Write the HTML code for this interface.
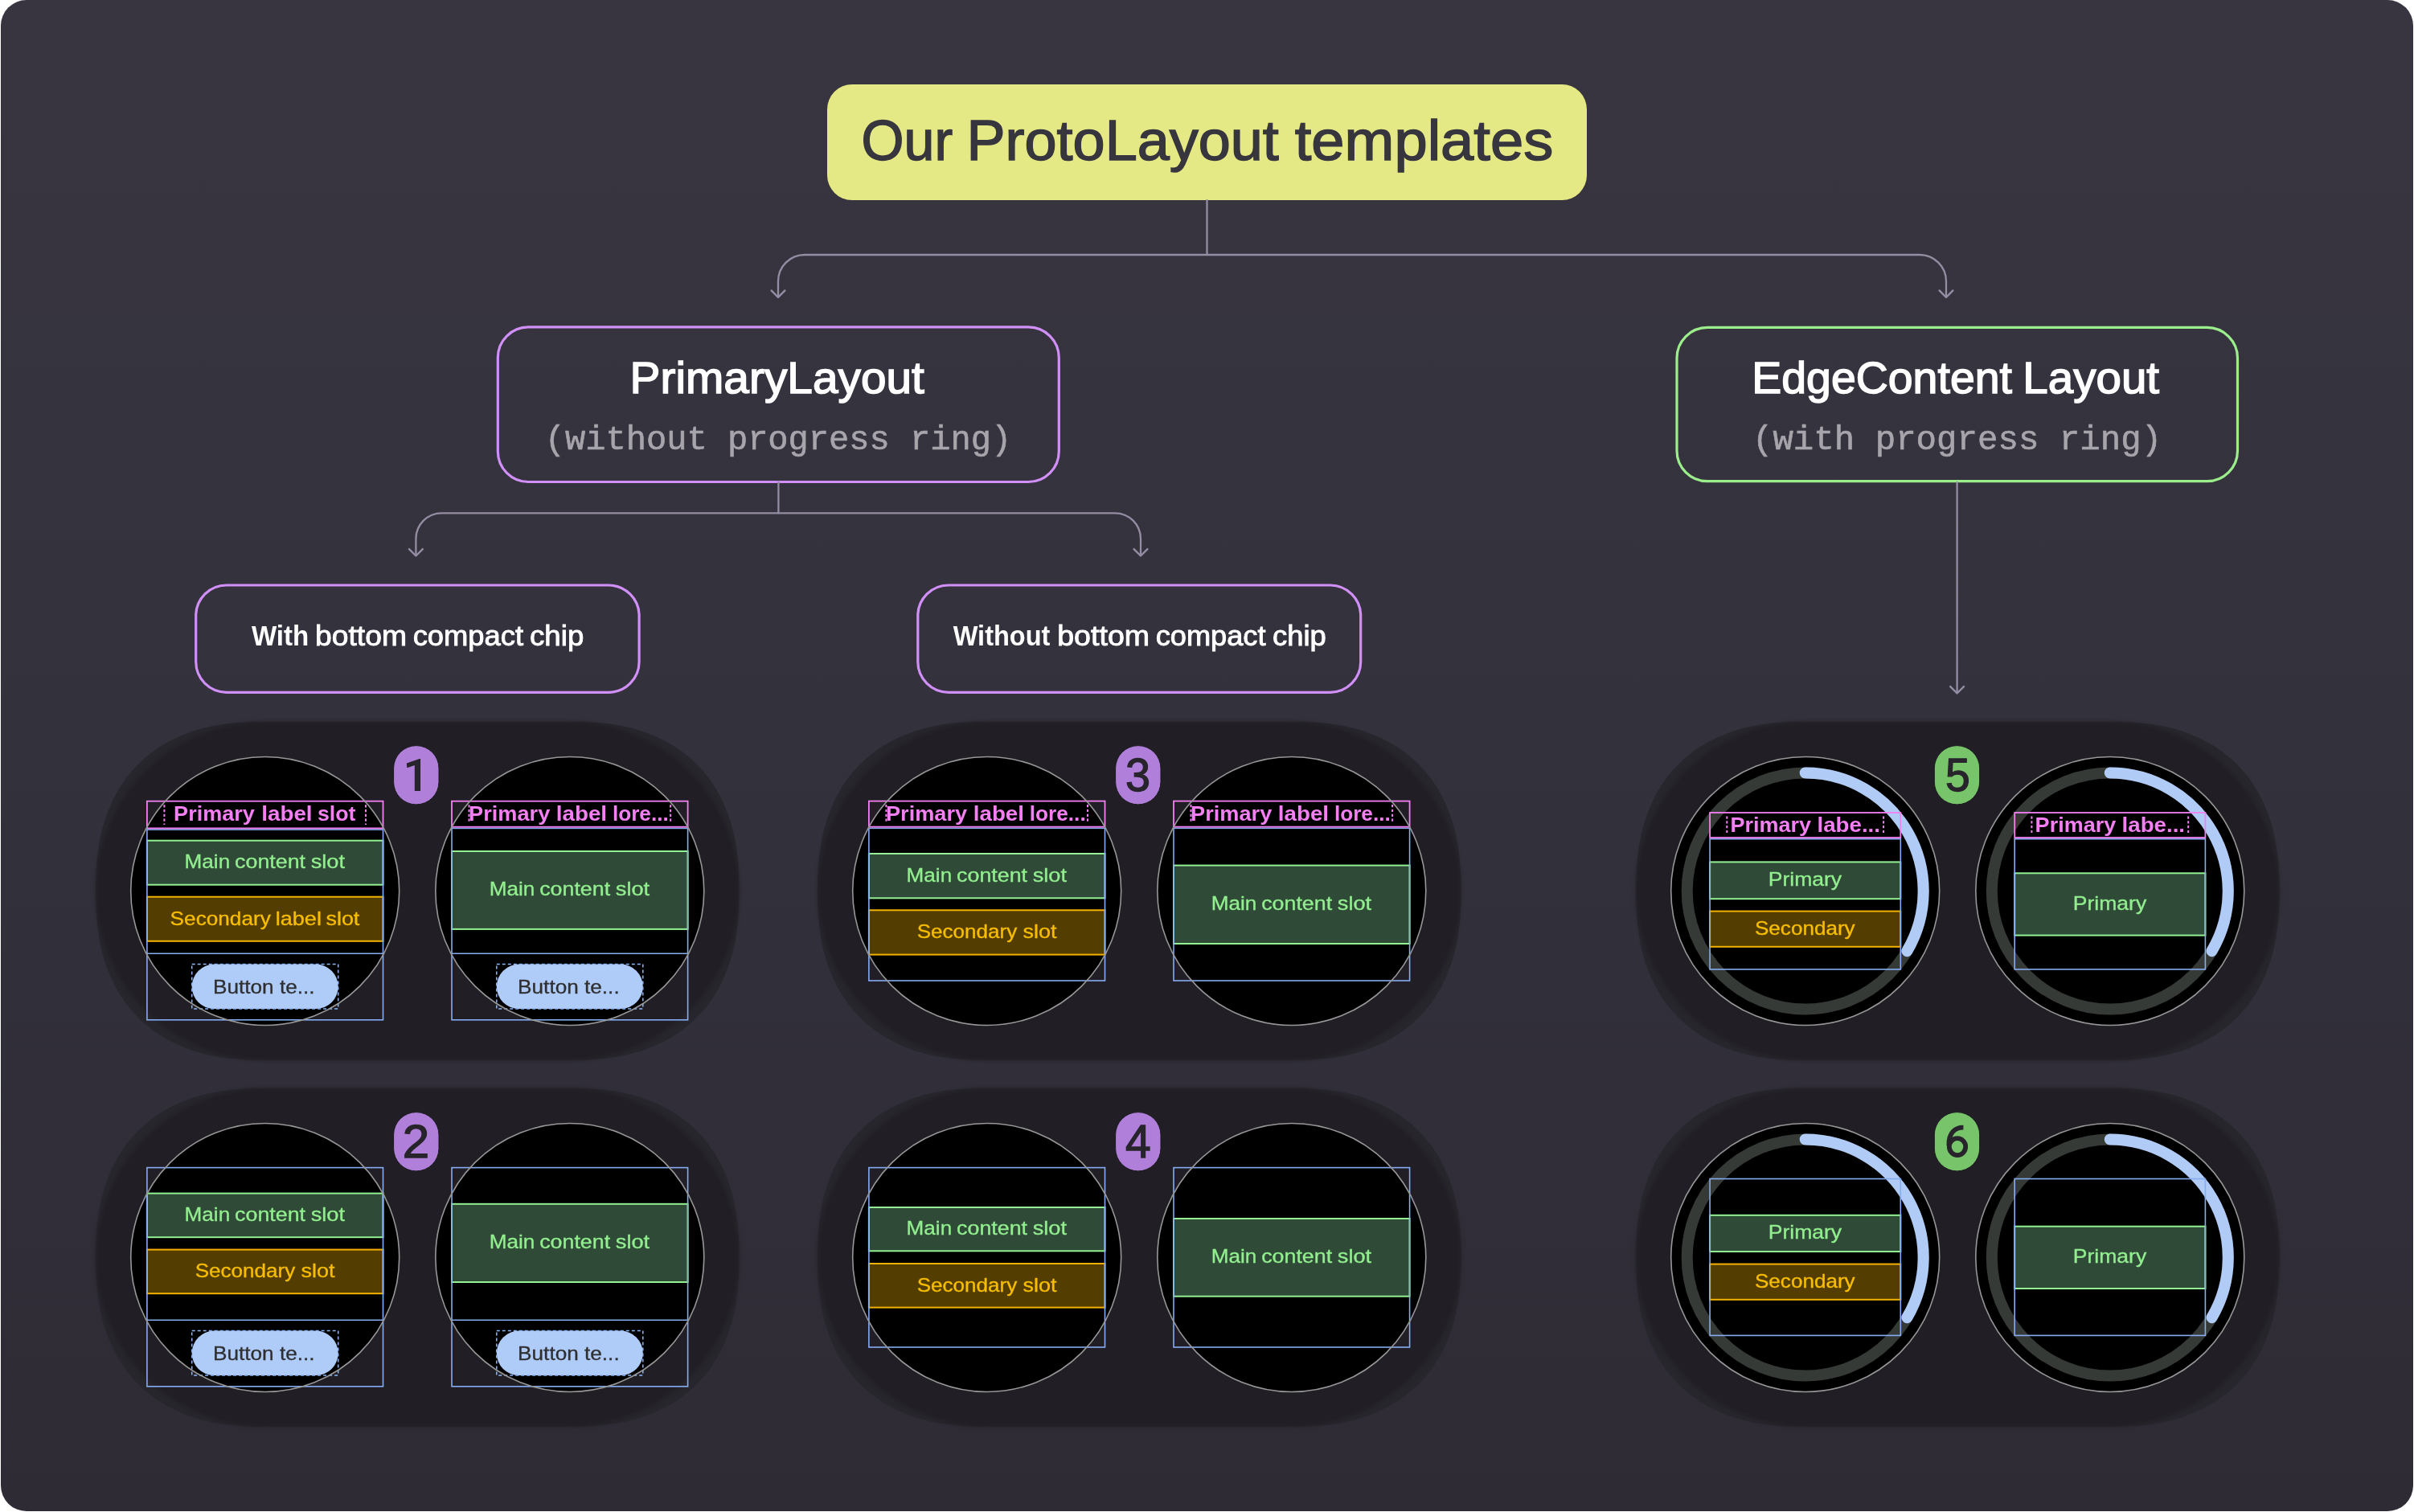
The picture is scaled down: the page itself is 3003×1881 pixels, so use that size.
<!DOCTYPE html>
<html><head><meta charset="utf-8"><style>
html,body{margin:0;padding:0;background:#fff;}
body{width:3003px;height:1881px;overflow:hidden;}
svg{display:block;will-change:transform;}
text{white-space:pre;}
</style></head><body>
<svg width="3003" height="1881" viewBox="0 0 3003 1881">
<defs>
<linearGradient id="bgg" x1="0" y1="0" x2="0" y2="1"><stop offset="0" stop-color="#383540"/><stop offset="0.4" stop-color="#34323d"/><stop offset="1" stop-color="#2e2b35"/></linearGradient>
<filter id="soft" x="-10%" y="-10%" width="120%" height="120%" color-interpolation-filters="sRGB"><feGaussianBlur stdDeviation="2.5"/></filter>
</defs>
<rect x="1" y="0" width="3001" height="1880" rx="32" fill="url(#bgg)"/>
<rect x="1029" y="105" width="945" height="144" rx="31" fill="#e5e985"/>
<path d="M1501.5 249 L1501.5 317" fill="none" stroke="#948da3" stroke-width="2.3" stroke-linecap="round" stroke-linejoin="round"/>
<path d="M968 369.5 L968 350 A33 33 0 0 1 1001 317 L2388 317 A33 33 0 0 1 2421 350 L2421 369.5" fill="none" stroke="#948da3" stroke-width="2.3" stroke-linecap="round" stroke-linejoin="round"/>
<path d="M959.6 361.4 L968.0 369.8 L976.4 361.4" fill="none" stroke="#948da3" stroke-width="2.4" stroke-linecap="round" stroke-linejoin="round"/>
<path d="M2412.6 361.4 L2421.0 369.8 L2429.4 361.4" fill="none" stroke="#948da3" stroke-width="2.4" stroke-linecap="round" stroke-linejoin="round"/>
<rect x="619.3" y="406.9" width="698" height="192.6" rx="38" fill="none" stroke="#d18ff8" stroke-width="3.2"/>
<rect x="2086" y="407.4" width="697.5" height="191.3" rx="38" fill="none" stroke="#9cee8c" stroke-width="3.2"/>
<path d="M968.4 600 L968.4 638.3" fill="none" stroke="#948da3" stroke-width="2.3" stroke-linecap="round" stroke-linejoin="round"/>
<path d="M517.4 691 L517.4 670.3 A32 32 0 0 1 549.4 638.3 L1387 638.3 A32 32 0 0 1 1419 670.3 L1419 691" fill="none" stroke="#948da3" stroke-width="2.3" stroke-linecap="round" stroke-linejoin="round"/>
<path d="M509.0 683.1 L517.4 691.5 L525.8 683.1" fill="none" stroke="#948da3" stroke-width="2.4" stroke-linecap="round" stroke-linejoin="round"/>
<path d="M1410.6 683.1 L1419.0 691.5 L1427.4 683.1" fill="none" stroke="#948da3" stroke-width="2.4" stroke-linecap="round" stroke-linejoin="round"/>
<path d="M2434.6 600 L2434.6 862" fill="none" stroke="#948da3" stroke-width="2.3" stroke-linecap="round" stroke-linejoin="round"/>
<path d="M2426.2 854.1 L2434.6 862.5 L2443.0 854.1" fill="none" stroke="#948da3" stroke-width="2.4" stroke-linecap="round" stroke-linejoin="round"/>
<rect x="243.7" y="728.0" width="551.4" height="133.3" rx="38" fill="none" stroke="#d18ff8" stroke-width="3.2"/>
<rect x="1141.8" y="728.0" width="550.9" height="133.3" rx="38" fill="none" stroke="#d18ff8" stroke-width="3.2"/>
<path d="M709.0 897.9 L720.0 898.0 L731.0 898.3 L742.1 898.9 L753.2 900.0 L764.4 901.5 L775.5 903.5 L786.6 906.1 L797.6 909.3 L808.4 913.2 L819.0 917.7 L829.4 922.9 L839.4 928.8 L849.0 935.4 L858.1 942.7 L866.6 950.7 L874.6 959.2 L881.9 968.3 L888.5 977.9 L894.4 987.9 L899.6 998.3 L904.1 1008.9 L908.0 1019.7 L911.2 1030.7 L913.8 1041.8 L915.8 1052.9 L917.3 1064.1 L918.4 1075.2 L919.0 1086.3 L919.3 1097.3 L919.4 1108.3 L919.3 1119.4 L919.0 1130.4 L918.4 1141.5 L917.3 1152.6 L915.8 1163.8 L913.8 1174.9 L911.2 1186.0 L908.0 1197.0 L904.1 1207.8 L899.6 1218.4 L894.4 1228.8 L888.5 1238.8 L881.9 1248.4 L874.6 1257.5 L866.6 1266.0 L858.1 1274.0 L849.0 1281.3 L839.4 1287.9 L829.4 1293.8 L819.0 1299.0 L808.4 1303.5 L797.6 1307.4 L786.6 1310.6 L775.5 1313.2 L764.4 1315.2 L753.2 1316.7 L742.1 1317.8 L731.0 1318.4 L720.0 1318.7 L709.0 1318.8 L329.6 1318.8 L318.6 1318.7 L307.6 1318.4 L296.5 1317.8 L285.4 1316.7 L274.2 1315.2 L263.1 1313.2 L252.0 1310.6 L241.0 1307.4 L230.2 1303.5 L219.6 1299.0 L209.2 1293.8 L199.2 1287.9 L189.6 1281.3 L180.5 1274.0 L172.0 1266.0 L164.0 1257.5 L156.7 1248.4 L150.1 1238.8 L144.2 1228.8 L139.0 1218.4 L134.5 1207.8 L130.6 1197.0 L127.4 1186.0 L124.8 1174.9 L122.8 1163.8 L121.3 1152.6 L120.2 1141.5 L119.6 1130.4 L119.3 1119.4 L119.2 1108.3 L119.3 1097.3 L119.6 1086.3 L120.2 1075.2 L121.3 1064.1 L122.8 1052.9 L124.8 1041.8 L127.4 1030.7 L130.6 1019.7 L134.5 1008.9 L139.0 998.3 L144.2 987.9 L150.1 977.9 L156.7 968.3 L164.0 959.2 L172.0 950.7 L180.5 942.7 L189.6 935.4 L199.2 928.8 L209.2 922.9 L219.6 917.7 L230.2 913.2 L241.0 909.3 L252.0 906.1 L263.1 903.5 L274.2 901.5 L285.4 900.0 L296.5 898.9 L307.6 898.3 L318.6 898.0 L329.6 897.9 Z" fill="#28262d"/>
<rect x="119.20" y="897.90" width="800.20" height="420.90" rx="210.45" fill="#211f25" filter="url(#soft)"/>
<path d="M709.0 1353.9 L720.0 1354.0 L731.0 1354.3 L742.1 1354.9 L753.2 1356.0 L764.4 1357.5 L775.5 1359.5 L786.6 1362.1 L797.6 1365.3 L808.4 1369.2 L819.0 1373.7 L829.4 1378.9 L839.4 1384.8 L849.0 1391.4 L858.1 1398.7 L866.6 1406.7 L874.6 1415.2 L881.9 1424.3 L888.5 1433.9 L894.4 1443.9 L899.6 1454.3 L904.1 1464.9 L908.0 1475.7 L911.2 1486.7 L913.8 1497.8 L915.8 1508.9 L917.3 1520.1 L918.4 1531.2 L919.0 1542.3 L919.3 1553.3 L919.4 1564.3 L919.3 1575.4 L919.0 1586.4 L918.4 1597.5 L917.3 1608.6 L915.8 1619.8 L913.8 1630.9 L911.2 1642.0 L908.0 1653.0 L904.1 1663.8 L899.6 1674.4 L894.4 1684.8 L888.5 1694.8 L881.9 1704.4 L874.6 1713.5 L866.6 1722.0 L858.1 1730.0 L849.0 1737.3 L839.4 1743.9 L829.4 1749.8 L819.0 1755.0 L808.4 1759.5 L797.6 1763.4 L786.6 1766.6 L775.5 1769.2 L764.4 1771.2 L753.2 1772.7 L742.1 1773.8 L731.0 1774.4 L720.0 1774.7 L709.0 1774.8 L329.6 1774.8 L318.6 1774.7 L307.6 1774.4 L296.5 1773.8 L285.4 1772.7 L274.2 1771.2 L263.1 1769.2 L252.0 1766.6 L241.0 1763.4 L230.2 1759.5 L219.6 1755.0 L209.2 1749.8 L199.2 1743.9 L189.6 1737.3 L180.5 1730.0 L172.0 1722.0 L164.0 1713.5 L156.7 1704.4 L150.1 1694.8 L144.2 1684.8 L139.0 1674.4 L134.5 1663.8 L130.6 1653.0 L127.4 1642.0 L124.8 1630.9 L122.8 1619.8 L121.3 1608.6 L120.2 1597.5 L119.6 1586.4 L119.3 1575.4 L119.2 1564.3 L119.3 1553.3 L119.6 1542.3 L120.2 1531.2 L121.3 1520.1 L122.8 1508.9 L124.8 1497.8 L127.4 1486.7 L130.6 1475.7 L134.5 1464.9 L139.0 1454.3 L144.2 1443.9 L150.1 1433.9 L156.7 1424.3 L164.0 1415.2 L172.0 1406.7 L180.5 1398.7 L189.6 1391.4 L199.2 1384.8 L209.2 1378.9 L219.6 1373.7 L230.2 1369.2 L241.0 1365.3 L252.0 1362.1 L263.1 1359.5 L274.2 1357.5 L285.4 1356.0 L296.5 1354.9 L307.6 1354.3 L318.6 1354.0 L329.6 1353.9 Z" fill="#28262d"/>
<rect x="119.20" y="1353.90" width="800.20" height="420.90" rx="210.45" fill="#211f25" filter="url(#soft)"/>
<path d="M1607.0 897.9 L1618.0 898.0 L1629.0 898.3 L1640.1 898.9 L1651.2 900.0 L1662.4 901.5 L1673.5 903.5 L1684.6 906.1 L1695.6 909.3 L1706.4 913.2 L1717.0 917.7 L1727.4 922.9 L1737.4 928.8 L1747.0 935.4 L1756.1 942.7 L1764.6 950.7 L1772.6 959.2 L1779.9 968.3 L1786.5 977.9 L1792.4 987.9 L1797.6 998.3 L1802.1 1008.9 L1806.0 1019.7 L1809.2 1030.7 L1811.8 1041.8 L1813.8 1052.9 L1815.3 1064.1 L1816.4 1075.2 L1817.0 1086.3 L1817.3 1097.3 L1817.4 1108.3 L1817.3 1119.4 L1817.0 1130.4 L1816.4 1141.5 L1815.3 1152.6 L1813.8 1163.8 L1811.8 1174.9 L1809.2 1186.0 L1806.0 1197.0 L1802.1 1207.8 L1797.6 1218.4 L1792.4 1228.8 L1786.5 1238.8 L1779.9 1248.4 L1772.6 1257.5 L1764.6 1266.0 L1756.1 1274.0 L1747.0 1281.3 L1737.4 1287.9 L1727.4 1293.8 L1717.0 1299.0 L1706.4 1303.5 L1695.6 1307.4 L1684.6 1310.6 L1673.5 1313.2 L1662.4 1315.2 L1651.2 1316.7 L1640.1 1317.8 L1629.0 1318.4 L1618.0 1318.7 L1607.0 1318.8 L1227.7 1318.8 L1216.6 1318.7 L1205.6 1318.4 L1194.5 1317.8 L1183.4 1316.7 L1172.2 1315.2 L1161.1 1313.2 L1150.0 1310.6 L1139.0 1307.4 L1128.2 1303.5 L1117.6 1299.0 L1107.2 1293.8 L1097.2 1287.9 L1087.6 1281.3 L1078.5 1274.0 L1070.0 1266.0 L1062.0 1257.5 L1054.7 1248.4 L1048.1 1238.8 L1042.2 1228.8 L1037.0 1218.4 L1032.5 1207.8 L1028.6 1197.0 L1025.4 1186.0 L1022.8 1174.9 L1020.8 1163.8 L1019.3 1152.6 L1018.2 1141.5 L1017.6 1130.4 L1017.3 1119.4 L1017.2 1108.3 L1017.3 1097.3 L1017.6 1086.3 L1018.2 1075.2 L1019.3 1064.1 L1020.8 1052.9 L1022.8 1041.8 L1025.4 1030.7 L1028.6 1019.7 L1032.5 1008.9 L1037.0 998.3 L1042.2 987.9 L1048.1 977.9 L1054.7 968.3 L1062.0 959.2 L1070.0 950.7 L1078.5 942.7 L1087.6 935.4 L1097.2 928.8 L1107.2 922.9 L1117.6 917.7 L1128.2 913.2 L1139.0 909.3 L1150.0 906.1 L1161.1 903.5 L1172.2 901.5 L1183.4 900.0 L1194.5 898.9 L1205.6 898.3 L1216.6 898.0 L1227.7 897.9 Z" fill="#28262d"/>
<rect x="1017.20" y="897.90" width="800.20" height="420.90" rx="210.45" fill="#211f25" filter="url(#soft)"/>
<path d="M1607.0 1353.9 L1618.0 1354.0 L1629.0 1354.3 L1640.1 1354.9 L1651.2 1356.0 L1662.4 1357.5 L1673.5 1359.5 L1684.6 1362.1 L1695.6 1365.3 L1706.4 1369.2 L1717.0 1373.7 L1727.4 1378.9 L1737.4 1384.8 L1747.0 1391.4 L1756.1 1398.7 L1764.6 1406.7 L1772.6 1415.2 L1779.9 1424.3 L1786.5 1433.9 L1792.4 1443.9 L1797.6 1454.3 L1802.1 1464.9 L1806.0 1475.7 L1809.2 1486.7 L1811.8 1497.8 L1813.8 1508.9 L1815.3 1520.1 L1816.4 1531.2 L1817.0 1542.3 L1817.3 1553.3 L1817.4 1564.3 L1817.3 1575.4 L1817.0 1586.4 L1816.4 1597.5 L1815.3 1608.6 L1813.8 1619.8 L1811.8 1630.9 L1809.2 1642.0 L1806.0 1653.0 L1802.1 1663.8 L1797.6 1674.4 L1792.4 1684.8 L1786.5 1694.8 L1779.9 1704.4 L1772.6 1713.5 L1764.6 1722.0 L1756.1 1730.0 L1747.0 1737.3 L1737.4 1743.9 L1727.4 1749.8 L1717.0 1755.0 L1706.4 1759.5 L1695.6 1763.4 L1684.6 1766.6 L1673.5 1769.2 L1662.4 1771.2 L1651.2 1772.7 L1640.1 1773.8 L1629.0 1774.4 L1618.0 1774.7 L1607.0 1774.8 L1227.7 1774.8 L1216.6 1774.7 L1205.6 1774.4 L1194.5 1773.8 L1183.4 1772.7 L1172.2 1771.2 L1161.1 1769.2 L1150.0 1766.6 L1139.0 1763.4 L1128.2 1759.5 L1117.6 1755.0 L1107.2 1749.8 L1097.2 1743.9 L1087.6 1737.3 L1078.5 1730.0 L1070.0 1722.0 L1062.0 1713.5 L1054.7 1704.4 L1048.1 1694.8 L1042.2 1684.8 L1037.0 1674.4 L1032.5 1663.8 L1028.6 1653.0 L1025.4 1642.0 L1022.8 1630.9 L1020.8 1619.8 L1019.3 1608.6 L1018.2 1597.5 L1017.6 1586.4 L1017.3 1575.4 L1017.2 1564.3 L1017.3 1553.3 L1017.6 1542.3 L1018.2 1531.2 L1019.3 1520.1 L1020.8 1508.9 L1022.8 1497.8 L1025.4 1486.7 L1028.6 1475.7 L1032.5 1464.9 L1037.0 1454.3 L1042.2 1443.9 L1048.1 1433.9 L1054.7 1424.3 L1062.0 1415.2 L1070.0 1406.7 L1078.5 1398.7 L1087.6 1391.4 L1097.2 1384.8 L1107.2 1378.9 L1117.6 1373.7 L1128.2 1369.2 L1139.0 1365.3 L1150.0 1362.1 L1161.1 1359.5 L1172.2 1357.5 L1183.4 1356.0 L1194.5 1354.9 L1205.6 1354.3 L1216.6 1354.0 L1227.7 1353.9 Z" fill="#28262d"/>
<rect x="1017.20" y="1353.90" width="800.20" height="420.90" rx="210.45" fill="#211f25" filter="url(#soft)"/>
<path d="M2625.0 897.9 L2636.0 898.0 L2647.0 898.3 L2658.1 898.9 L2669.2 900.0 L2680.4 901.5 L2691.5 903.5 L2702.6 906.1 L2713.6 909.3 L2724.4 913.2 L2735.0 917.7 L2745.4 922.9 L2755.4 928.8 L2765.0 935.4 L2774.1 942.7 L2782.6 950.7 L2790.6 959.2 L2797.9 968.3 L2804.5 977.9 L2810.4 987.9 L2815.6 998.3 L2820.1 1008.9 L2824.0 1019.7 L2827.2 1030.7 L2829.8 1041.8 L2831.8 1052.9 L2833.3 1064.1 L2834.4 1075.2 L2835.0 1086.3 L2835.3 1097.3 L2835.4 1108.3 L2835.3 1119.4 L2835.0 1130.4 L2834.4 1141.5 L2833.3 1152.6 L2831.8 1163.8 L2829.8 1174.9 L2827.2 1186.0 L2824.0 1197.0 L2820.1 1207.8 L2815.6 1218.4 L2810.4 1228.8 L2804.5 1238.8 L2797.9 1248.4 L2790.6 1257.5 L2782.6 1266.0 L2774.1 1274.0 L2765.0 1281.3 L2755.4 1287.9 L2745.4 1293.8 L2735.0 1299.0 L2724.4 1303.5 L2713.6 1307.4 L2702.6 1310.6 L2691.5 1313.2 L2680.4 1315.2 L2669.2 1316.7 L2658.1 1317.8 L2647.0 1318.4 L2636.0 1318.7 L2625.0 1318.8 L2245.7 1318.8 L2234.6 1318.7 L2223.6 1318.4 L2212.5 1317.8 L2201.4 1316.7 L2190.2 1315.2 L2179.1 1313.2 L2168.0 1310.6 L2157.0 1307.4 L2146.2 1303.5 L2135.6 1299.0 L2125.2 1293.8 L2115.2 1287.9 L2105.6 1281.3 L2096.5 1274.0 L2088.0 1266.0 L2080.0 1257.5 L2072.7 1248.4 L2066.1 1238.8 L2060.2 1228.8 L2055.0 1218.4 L2050.5 1207.8 L2046.6 1197.0 L2043.4 1186.0 L2040.8 1174.9 L2038.8 1163.8 L2037.3 1152.6 L2036.2 1141.5 L2035.6 1130.4 L2035.3 1119.4 L2035.2 1108.3 L2035.3 1097.3 L2035.6 1086.3 L2036.2 1075.2 L2037.3 1064.1 L2038.8 1052.9 L2040.8 1041.8 L2043.4 1030.7 L2046.6 1019.7 L2050.5 1008.9 L2055.0 998.3 L2060.2 987.9 L2066.1 977.9 L2072.7 968.3 L2080.0 959.2 L2088.0 950.7 L2096.5 942.7 L2105.6 935.4 L2115.2 928.8 L2125.2 922.9 L2135.6 917.7 L2146.2 913.2 L2157.0 909.3 L2168.0 906.1 L2179.1 903.5 L2190.2 901.5 L2201.4 900.0 L2212.5 898.9 L2223.6 898.3 L2234.6 898.0 L2245.7 897.9 Z" fill="#28262d"/>
<rect x="2035.20" y="897.90" width="800.20" height="420.90" rx="210.45" fill="#211f25" filter="url(#soft)"/>
<path d="M2625.0 1353.9 L2636.0 1354.0 L2647.0 1354.3 L2658.1 1354.9 L2669.2 1356.0 L2680.4 1357.5 L2691.5 1359.5 L2702.6 1362.1 L2713.6 1365.3 L2724.4 1369.2 L2735.0 1373.7 L2745.4 1378.9 L2755.4 1384.8 L2765.0 1391.4 L2774.1 1398.7 L2782.6 1406.7 L2790.6 1415.2 L2797.9 1424.3 L2804.5 1433.9 L2810.4 1443.9 L2815.6 1454.3 L2820.1 1464.9 L2824.0 1475.7 L2827.2 1486.7 L2829.8 1497.8 L2831.8 1508.9 L2833.3 1520.1 L2834.4 1531.2 L2835.0 1542.3 L2835.3 1553.3 L2835.4 1564.3 L2835.3 1575.4 L2835.0 1586.4 L2834.4 1597.5 L2833.3 1608.6 L2831.8 1619.8 L2829.8 1630.9 L2827.2 1642.0 L2824.0 1653.0 L2820.1 1663.8 L2815.6 1674.4 L2810.4 1684.8 L2804.5 1694.8 L2797.9 1704.4 L2790.6 1713.5 L2782.6 1722.0 L2774.1 1730.0 L2765.0 1737.3 L2755.4 1743.9 L2745.4 1749.8 L2735.0 1755.0 L2724.4 1759.5 L2713.6 1763.4 L2702.6 1766.6 L2691.5 1769.2 L2680.4 1771.2 L2669.2 1772.7 L2658.1 1773.8 L2647.0 1774.4 L2636.0 1774.7 L2625.0 1774.8 L2245.7 1774.8 L2234.6 1774.7 L2223.6 1774.4 L2212.5 1773.8 L2201.4 1772.7 L2190.2 1771.2 L2179.1 1769.2 L2168.0 1766.6 L2157.0 1763.4 L2146.2 1759.5 L2135.6 1755.0 L2125.2 1749.8 L2115.2 1743.9 L2105.6 1737.3 L2096.5 1730.0 L2088.0 1722.0 L2080.0 1713.5 L2072.7 1704.4 L2066.1 1694.8 L2060.2 1684.8 L2055.0 1674.4 L2050.5 1663.8 L2046.6 1653.0 L2043.4 1642.0 L2040.8 1630.9 L2038.8 1619.8 L2037.3 1608.6 L2036.2 1597.5 L2035.6 1586.4 L2035.3 1575.4 L2035.2 1564.3 L2035.3 1553.3 L2035.6 1542.3 L2036.2 1531.2 L2037.3 1520.1 L2038.8 1508.9 L2040.8 1497.8 L2043.4 1486.7 L2046.6 1475.7 L2050.5 1464.9 L2055.0 1454.3 L2060.2 1443.9 L2066.1 1433.9 L2072.7 1424.3 L2080.0 1415.2 L2088.0 1406.7 L2096.5 1398.7 L2105.6 1391.4 L2115.2 1384.8 L2125.2 1378.9 L2135.6 1373.7 L2146.2 1369.2 L2157.0 1365.3 L2168.0 1362.1 L2179.1 1359.5 L2190.2 1357.5 L2201.4 1356.0 L2212.5 1354.9 L2223.6 1354.3 L2234.6 1354.0 L2245.7 1353.9 Z" fill="#28262d"/>
<rect x="2035.20" y="1353.90" width="800.20" height="420.90" rx="210.45" fill="#211f25" filter="url(#soft)"/>
<circle cx="329.70" cy="1108.50" r="167.0" fill="#000"/>
<rect x="182.90" y="1045.70" width="293.60" height="55.00" fill="#2f4b37" stroke="#93f093" stroke-width="2"/>
<rect x="182.90" y="1115.70" width="293.60" height="55.10" fill="#533d00" stroke="#f3b200" stroke-width="2"/>
<rect x="182.90" y="1032.10" width="293.60" height="236.70" fill="none" stroke="#86acf2" stroke-width="1.6"/>
<line x1="182.90" y1="1186.20" x2="476.50" y2="1186.20" stroke="#86acf2" stroke-width="1.5"/>
<rect x="182.90" y="996.70" width="293.60" height="33.70" fill="none" stroke="#f47ff3" stroke-width="1.8"/>
<rect x="238.70" y="1199.60" width="182.00" height="55.40" rx="27.70" fill="#afcbf8"/>
<rect x="238.70" y="1199.60" width="182.00" height="55.40" fill="none" stroke="#8cb6f7" stroke-width="1.5" stroke-dasharray="4 3"/>
<circle cx="329.70" cy="1108.50" r="167.0" fill="none" stroke="#979797" stroke-width="1.6"/>
<circle cx="708.80" cy="1108.50" r="167.0" fill="#000"/>
<rect x="562.00" y="1059.00" width="293.60" height="96.90" fill="#2f4b37" stroke="#93f093" stroke-width="2"/>
<rect x="562.00" y="1030.40" width="293.60" height="238.40" fill="none" stroke="#86acf2" stroke-width="1.6"/>
<line x1="562.00" y1="1186.20" x2="855.60" y2="1186.20" stroke="#86acf2" stroke-width="1.5"/>
<rect x="562.00" y="996.70" width="293.60" height="32.00" fill="none" stroke="#f47ff3" stroke-width="1.8"/>
<rect x="617.80" y="1199.60" width="182.00" height="55.40" rx="27.70" fill="#afcbf8"/>
<rect x="617.80" y="1199.60" width="182.00" height="55.40" fill="none" stroke="#8cb6f7" stroke-width="1.5" stroke-dasharray="4 3"/>
<circle cx="708.80" cy="1108.50" r="167.0" fill="none" stroke="#979797" stroke-width="1.6"/>
<rect x="489.60" y="927.60" width="56.4" height="73.3" rx="28.2" fill="#b07fda" stroke="#1c1a1f" stroke-width="1"/>
<circle cx="329.70" cy="1564.50" r="167.0" fill="#000"/>
<rect x="182.90" y="1484.60" width="293.60" height="54.60" fill="#2f4b37" stroke="#93f093" stroke-width="2"/>
<rect x="182.90" y="1554.60" width="293.60" height="54.60" fill="#533d00" stroke="#f3b200" stroke-width="2"/>
<rect x="182.90" y="1452.60" width="293.60" height="272.20" fill="none" stroke="#86acf2" stroke-width="1.6"/>
<line x1="182.90" y1="1642.20" x2="476.50" y2="1642.20" stroke="#86acf2" stroke-width="1.5"/>
<rect x="238.70" y="1655.60" width="182.00" height="55.40" rx="27.70" fill="#afcbf8"/>
<rect x="238.70" y="1655.60" width="182.00" height="55.40" fill="none" stroke="#8cb6f7" stroke-width="1.5" stroke-dasharray="4 3"/>
<circle cx="329.70" cy="1564.50" r="167.0" fill="none" stroke="#979797" stroke-width="1.6"/>
<circle cx="708.80" cy="1564.50" r="167.0" fill="#000"/>
<rect x="562.00" y="1497.80" width="293.60" height="97.20" fill="#2f4b37" stroke="#93f093" stroke-width="2"/>
<rect x="562.00" y="1452.60" width="293.60" height="272.20" fill="none" stroke="#86acf2" stroke-width="1.6"/>
<line x1="562.00" y1="1642.20" x2="855.60" y2="1642.20" stroke="#86acf2" stroke-width="1.5"/>
<rect x="617.80" y="1655.60" width="182.00" height="55.40" rx="27.70" fill="#afcbf8"/>
<rect x="617.80" y="1655.60" width="182.00" height="55.40" fill="none" stroke="#8cb6f7" stroke-width="1.5" stroke-dasharray="4 3"/>
<circle cx="708.80" cy="1564.50" r="167.0" fill="none" stroke="#979797" stroke-width="1.6"/>
<rect x="489.60" y="1383.60" width="56.4" height="73.3" rx="28.2" fill="#b07fda" stroke="#1c1a1f" stroke-width="1"/>
<circle cx="1227.70" cy="1108.50" r="167.0" fill="#000"/>
<rect x="1080.90" y="1062.00" width="293.60" height="55.30" fill="#2f4b37" stroke="#93f093" stroke-width="2"/>
<rect x="1080.90" y="1132.30" width="293.60" height="55.30" fill="#533d00" stroke="#f3b200" stroke-width="2"/>
<rect x="1080.90" y="1030.30" width="293.60" height="189.70" fill="none" stroke="#86acf2" stroke-width="1.6"/>
<rect x="1080.90" y="996.60" width="293.60" height="32.00" fill="none" stroke="#f47ff3" stroke-width="1.8"/>
<circle cx="1227.70" cy="1108.50" r="167.0" fill="none" stroke="#979797" stroke-width="1.6"/>
<circle cx="1606.80" cy="1108.50" r="167.0" fill="#000"/>
<rect x="1460.00" y="1076.60" width="293.60" height="97.40" fill="#2f4b37" stroke="#93f093" stroke-width="2"/>
<rect x="1460.00" y="1030.30" width="293.60" height="189.70" fill="none" stroke="#86acf2" stroke-width="1.6"/>
<rect x="1460.00" y="996.60" width="293.60" height="32.00" fill="none" stroke="#f47ff3" stroke-width="1.8"/>
<circle cx="1606.80" cy="1108.50" r="167.0" fill="none" stroke="#979797" stroke-width="1.6"/>
<rect x="1387.60" y="927.60" width="56.4" height="73.3" rx="28.2" fill="#b07fda" stroke="#1c1a1f" stroke-width="1"/>
<circle cx="1227.70" cy="1564.50" r="167.0" fill="#000"/>
<rect x="1080.90" y="1502.00" width="293.60" height="54.30" fill="#2f4b37" stroke="#93f093" stroke-width="2"/>
<rect x="1080.90" y="1572.00" width="293.60" height="54.60" fill="#533d00" stroke="#f3b200" stroke-width="2"/>
<rect x="1080.90" y="1452.60" width="293.60" height="223.40" fill="none" stroke="#86acf2" stroke-width="1.6"/>
<circle cx="1227.70" cy="1564.50" r="167.0" fill="none" stroke="#979797" stroke-width="1.6"/>
<circle cx="1606.80" cy="1564.50" r="167.0" fill="#000"/>
<rect x="1460.00" y="1516.00" width="293.60" height="96.70" fill="#2f4b37" stroke="#93f093" stroke-width="2"/>
<rect x="1460.00" y="1452.60" width="293.60" height="223.40" fill="none" stroke="#86acf2" stroke-width="1.6"/>
<circle cx="1606.80" cy="1564.50" r="167.0" fill="none" stroke="#979797" stroke-width="1.6"/>
<rect x="1387.60" y="1383.60" width="56.4" height="73.3" rx="28.2" fill="#b07fda" stroke="#1c1a1f" stroke-width="1"/>
<circle cx="2245.70" cy="1108.50" r="167.0" fill="#000"/>
<circle cx="2245.70" cy="1108.50" r="147" fill="none" stroke="#363a36" stroke-width="14"/>
<path d="M2245.70 961.50 A147 147 0 0 1 2372.36 1183.11" fill="none" stroke="#b0cbf6" stroke-width="14" stroke-linecap="round"/>
<rect x="2127.10" y="1072.40" width="237.20" height="45.80" fill="#2f4b37" stroke="#93f093" stroke-width="2"/>
<rect x="2127.10" y="1133.60" width="237.20" height="44.20" fill="#533d00" stroke="#f3b200" stroke-width="2"/>
<rect x="2127.10" y="1043.70" width="237.20" height="162.20" fill="none" stroke="#86acf2" stroke-width="1.6"/>
<rect x="2127.10" y="1011.00" width="237.20" height="31.00" fill="none" stroke="#f47ff3" stroke-width="1.8"/>
<circle cx="2245.70" cy="1108.50" r="167.0" fill="none" stroke="#979797" stroke-width="1.6"/>
<circle cx="2624.80" cy="1108.50" r="167.0" fill="#000"/>
<circle cx="2624.80" cy="1108.50" r="147" fill="none" stroke="#363a36" stroke-width="14"/>
<path d="M2624.80 961.50 A147 147 0 0 1 2751.46 1183.11" fill="none" stroke="#b0cbf6" stroke-width="14" stroke-linecap="round"/>
<rect x="2506.20" y="1086.30" width="237.20" height="77.30" fill="#2f4b37" stroke="#93f093" stroke-width="2"/>
<rect x="2506.20" y="1043.70" width="237.20" height="162.20" fill="none" stroke="#86acf2" stroke-width="1.6"/>
<rect x="2506.20" y="1011.00" width="237.20" height="31.00" fill="none" stroke="#f47ff3" stroke-width="1.8"/>
<circle cx="2624.80" cy="1108.50" r="167.0" fill="none" stroke="#979797" stroke-width="1.6"/>
<rect x="2406.30" y="927.60" width="56.4" height="73.3" rx="28.2" fill="#77c46a" stroke="#1c1a1f" stroke-width="1"/>
<circle cx="2245.70" cy="1564.50" r="167.0" fill="#000"/>
<circle cx="2245.70" cy="1564.50" r="147" fill="none" stroke="#363a36" stroke-width="14"/>
<path d="M2245.70 1417.50 A147 147 0 0 1 2372.36 1639.11" fill="none" stroke="#b0cbf6" stroke-width="14" stroke-linecap="round"/>
<rect x="2127.10" y="1511.80" width="237.20" height="45.20" fill="#2f4b37" stroke="#93f093" stroke-width="2"/>
<rect x="2127.10" y="1572.60" width="237.20" height="44.20" fill="#533d00" stroke="#f3b200" stroke-width="2"/>
<rect x="2127.10" y="1466.50" width="237.20" height="194.90" fill="none" stroke="#86acf2" stroke-width="1.6"/>
<circle cx="2245.70" cy="1564.50" r="167.0" fill="none" stroke="#979797" stroke-width="1.6"/>
<circle cx="2624.80" cy="1564.50" r="167.0" fill="#000"/>
<circle cx="2624.80" cy="1564.50" r="147" fill="none" stroke="#363a36" stroke-width="14"/>
<path d="M2624.80 1417.50 A147 147 0 0 1 2751.46 1639.11" fill="none" stroke="#b0cbf6" stroke-width="14" stroke-linecap="round"/>
<rect x="2506.20" y="1525.70" width="237.20" height="77.30" fill="#2f4b37" stroke="#93f093" stroke-width="2"/>
<rect x="2506.20" y="1466.50" width="237.20" height="194.90" fill="none" stroke="#86acf2" stroke-width="1.6"/>
<circle cx="2624.80" cy="1564.50" r="167.0" fill="none" stroke="#979797" stroke-width="1.6"/>
<rect x="2406.30" y="1383.60" width="56.4" height="73.3" rx="28.2" fill="#77c46a" stroke="#1c1a1f" stroke-width="1"/>
<line x1="204.40" y1="1001.20" x2="204.40" y2="1025.90" stroke="#f47ff3" stroke-width="2" stroke-dasharray="3.2 2.6"/><line x1="455.00" y1="1001.20" x2="455.00" y2="1025.90" stroke="#f47ff3" stroke-width="2" stroke-dasharray="3.2 2.6"/><line x1="583.50" y1="1001.20" x2="583.50" y2="1024.20" stroke="#f47ff3" stroke-width="2" stroke-dasharray="3.2 2.6"/><line x1="834.10" y1="1001.20" x2="834.10" y2="1024.20" stroke="#f47ff3" stroke-width="2" stroke-dasharray="3.2 2.6"/><line x1="1102.40" y1="1001.10" x2="1102.40" y2="1024.10" stroke="#f47ff3" stroke-width="2" stroke-dasharray="3.2 2.6"/><line x1="1353.00" y1="1001.10" x2="1353.00" y2="1024.10" stroke="#f47ff3" stroke-width="2" stroke-dasharray="3.2 2.6"/><line x1="1481.50" y1="1001.10" x2="1481.50" y2="1024.10" stroke="#f47ff3" stroke-width="2" stroke-dasharray="3.2 2.6"/><line x1="1732.10" y1="1001.10" x2="1732.10" y2="1024.10" stroke="#f47ff3" stroke-width="2" stroke-dasharray="3.2 2.6"/><line x1="2148.30" y1="1015.50" x2="2148.30" y2="1037.50" stroke="#f47ff3" stroke-width="2" stroke-dasharray="3.2 2.6"/><line x1="2343.10" y1="1015.50" x2="2343.10" y2="1037.50" stroke="#f47ff3" stroke-width="2" stroke-dasharray="3.2 2.6"/><line x1="2527.40" y1="1015.50" x2="2527.40" y2="1037.50" stroke="#f47ff3" stroke-width="2" stroke-dasharray="3.2 2.6"/><line x1="2722.20" y1="1015.50" x2="2722.20" y2="1037.50" stroke="#f47ff3" stroke-width="2" stroke-dasharray="3.2 2.6"/>
<path d="M523.05 944.00 L523.05 983.90 L515.80 983.90 L515.80 952.00 L506.30 955.30 L505.80 949.60 L521.80 944.00 Z" fill="#27242b"/><ellipse cx="2435.00" cy="1426.60" rx="10.2" ry="10.5" fill="none" stroke="#27242b" stroke-width="5.8"/><path d="M2442.40 1402.60 C2433.00 1402.40 2423.90 1408.50 2424.40 1425.00" fill="none" stroke="#27242b" stroke-width="5.8"/>
<text x="1071.60" y="199.00" font-family="Liberation Sans" font-weight="400" font-size="70.5" textLength="113.47" lengthAdjust="spacingAndGlyphs" fill="#37353d" stroke="#37353d" stroke-width="1.5">Our</text>
<text x="1202.57" y="199.00" font-family="Liberation Sans" font-weight="400" font-size="70.5" textLength="388.32" lengthAdjust="spacingAndGlyphs" fill="#37353d" stroke="#37353d" stroke-width="1.5">ProtoLayout</text>
<text x="1610.75" y="199.00" font-family="Liberation Sans" font-weight="400" font-size="70.5" textLength="321.55" lengthAdjust="spacingAndGlyphs" fill="#37353d" stroke="#37353d" stroke-width="1.5">templates</text>
<text x="783.58" y="489.00" font-family="Liberation Sans" font-weight="400" font-size="55.5" textLength="366.31" lengthAdjust="spacingAndGlyphs" fill="#ffffff" stroke="#ffffff" stroke-width="1.5">PrimaryLayout</text>
<text x="677.69" y="559.20" font-family="Liberation Mono" font-weight="400" font-size="42" textLength="580.62" lengthAdjust="spacingAndGlyphs" fill="#a7a4ab" stroke="#a7a4ab" stroke-width="0.6">(without progress ring)</text>
<text x="2179.20" y="489.00" font-family="Liberation Sans" font-weight="400" font-size="55.5" textLength="323.81" lengthAdjust="spacingAndGlyphs" fill="#ffffff" stroke="#ffffff" stroke-width="1.5">EdgeContent</text>
<text x="2516.31" y="489.00" font-family="Liberation Sans" font-weight="400" font-size="55.5" textLength="169.75" lengthAdjust="spacingAndGlyphs" fill="#ffffff" stroke="#ffffff" stroke-width="1.5">Layout</text>
<text x="2179.93" y="559.20" font-family="Liberation Mono" font-weight="400" font-size="42" textLength="509.24" lengthAdjust="spacingAndGlyphs" fill="#a7a4ab" stroke="#a7a4ab" stroke-width="0.6">(with progress ring)</text>
<text x="312.90" y="803.00" font-family="Liberation Sans" font-weight="700" font-size="35" textLength="71.36" lengthAdjust="spacingAndGlyphs" fill="#ffffff" >With</text>
<text x="391.96" y="803.00" font-family="Liberation Sans" font-weight="400" font-size="34.8" textLength="114.00" lengthAdjust="spacingAndGlyphs" fill="#ffffff" stroke="#ffffff" stroke-width="0.9">bottom</text>
<text x="513.66" y="803.00" font-family="Liberation Sans" font-weight="400" font-size="34.8" textLength="137.38" lengthAdjust="spacingAndGlyphs" fill="#ffffff" stroke="#ffffff" stroke-width="0.9">compact</text>
<text x="659.05" y="803.00" font-family="Liberation Sans" font-weight="400" font-size="34.8" textLength="67.24" lengthAdjust="spacingAndGlyphs" fill="#ffffff" stroke="#ffffff" stroke-width="0.9">chip</text>
<text x="1185.70" y="803.00" font-family="Liberation Sans" font-weight="700" font-size="35" textLength="120.71" lengthAdjust="spacingAndGlyphs" fill="#ffffff" >Without</text>
<text x="1315.24" y="803.00" font-family="Liberation Sans" font-weight="400" font-size="34.8" textLength="114.84" lengthAdjust="spacingAndGlyphs" fill="#ffffff" stroke="#ffffff" stroke-width="0.9">bottom</text>
<text x="1437.66" y="803.00" font-family="Liberation Sans" font-weight="400" font-size="34.8" textLength="136.88" lengthAdjust="spacingAndGlyphs" fill="#ffffff" stroke="#ffffff" stroke-width="0.9">compact</text>
<text x="1583.05" y="803.00" font-family="Liberation Sans" font-weight="400" font-size="34.8" textLength="66.83" lengthAdjust="spacingAndGlyphs" fill="#ffffff" stroke="#ffffff" stroke-width="0.9">chip</text>
<text x="216.14" y="1020.60" font-family="Liberation Sans" font-weight="700" font-size="25" textLength="100.70" lengthAdjust="spacingAndGlyphs" fill="#f47ff3" >Primary</text>
<text x="325.28" y="1020.60" font-family="Liberation Sans" font-weight="700" font-size="25" textLength="63.33" lengthAdjust="spacingAndGlyphs" fill="#f47ff3" >label</text>
<text x="394.93" y="1020.60" font-family="Liberation Sans" font-weight="700" font-size="25" textLength="47.55" lengthAdjust="spacingAndGlyphs" fill="#f47ff3" >slot</text>
<text x="229.57" y="1080.20" font-family="Liberation Sans" font-weight="400" font-size="24.5" textLength="56.61" lengthAdjust="spacingAndGlyphs" fill="#92ee8f" stroke="#92ee8f" stroke-width="0.35">Main</text>
<text x="292.11" y="1080.20" font-family="Liberation Sans" font-weight="400" font-size="24.5" textLength="87.90" lengthAdjust="spacingAndGlyphs" fill="#92ee8f" stroke="#92ee8f" stroke-width="0.35">content</text>
<text x="386.69" y="1080.20" font-family="Liberation Sans" font-weight="400" font-size="24.5" textLength="42.37" lengthAdjust="spacingAndGlyphs" fill="#92ee8f" stroke="#92ee8f" stroke-width="0.35">slot</text>
<text x="211.63" y="1150.55" font-family="Liberation Sans" font-weight="400" font-size="24.5" textLength="125.12" lengthAdjust="spacingAndGlyphs" fill="#f7bd00" stroke="#f7bd00" stroke-width="0.35">Secondary</text>
<text x="342.69" y="1150.55" font-family="Liberation Sans" font-weight="400" font-size="24.5" textLength="57.27" lengthAdjust="spacingAndGlyphs" fill="#f7bd00" stroke="#f7bd00" stroke-width="0.35">label</text>
<text x="405.50" y="1150.55" font-family="Liberation Sans" font-weight="400" font-size="24.5" textLength="41.85" lengthAdjust="spacingAndGlyphs" fill="#f7bd00" stroke="#f7bd00" stroke-width="0.35">slot</text>
<text x="265.02" y="1235.60" font-family="Liberation Sans" font-weight="400" font-size="24" textLength="126.55" lengthAdjust="spacingAndGlyphs" fill="#2f2f30" stroke="#2f2f30" stroke-width="0.3">Button te...</text>
<text x="583.13" y="1020.60" font-family="Liberation Sans" font-weight="700" font-size="25" textLength="101.11" lengthAdjust="spacingAndGlyphs" fill="#f47ff3" >Primary</text>
<text x="691.88" y="1020.60" font-family="Liberation Sans" font-weight="700" font-size="25" textLength="63.22" lengthAdjust="spacingAndGlyphs" fill="#f47ff3" >label</text>
<text x="761.90" y="1020.60" font-family="Liberation Sans" font-weight="700" font-size="25" textLength="69.86" lengthAdjust="spacingAndGlyphs" fill="#f47ff3" >lore...</text>
<text x="608.67" y="1114.45" font-family="Liberation Sans" font-weight="400" font-size="24.5" textLength="56.61" lengthAdjust="spacingAndGlyphs" fill="#92ee8f" stroke="#92ee8f" stroke-width="0.35">Main</text>
<text x="671.21" y="1114.45" font-family="Liberation Sans" font-weight="400" font-size="24.5" textLength="87.90" lengthAdjust="spacingAndGlyphs" fill="#92ee8f" stroke="#92ee8f" stroke-width="0.35">content</text>
<text x="765.79" y="1114.45" font-family="Liberation Sans" font-weight="400" font-size="24.5" textLength="42.37" lengthAdjust="spacingAndGlyphs" fill="#92ee8f" stroke="#92ee8f" stroke-width="0.35">slot</text>
<text x="644.12" y="1235.60" font-family="Liberation Sans" font-weight="400" font-size="24" textLength="126.55" lengthAdjust="spacingAndGlyphs" fill="#2f2f30" stroke="#2f2f30" stroke-width="0.3">Button te...</text>
<text x="229.57" y="1518.90" font-family="Liberation Sans" font-weight="400" font-size="24.5" textLength="56.61" lengthAdjust="spacingAndGlyphs" fill="#92ee8f" stroke="#92ee8f" stroke-width="0.35">Main</text>
<text x="292.11" y="1518.90" font-family="Liberation Sans" font-weight="400" font-size="24.5" textLength="87.90" lengthAdjust="spacingAndGlyphs" fill="#92ee8f" stroke="#92ee8f" stroke-width="0.35">content</text>
<text x="386.69" y="1518.90" font-family="Liberation Sans" font-weight="400" font-size="24.5" textLength="42.37" lengthAdjust="spacingAndGlyphs" fill="#92ee8f" stroke="#92ee8f" stroke-width="0.35">slot</text>
<text x="242.74" y="1589.20" font-family="Liberation Sans" font-weight="400" font-size="24.5" textLength="124.51" lengthAdjust="spacingAndGlyphs" fill="#f7bd00" stroke="#f7bd00" stroke-width="0.35">Secondary</text>
<text x="374.60" y="1589.20" font-family="Liberation Sans" font-weight="400" font-size="24.5" textLength="41.95" lengthAdjust="spacingAndGlyphs" fill="#f7bd00" stroke="#f7bd00" stroke-width="0.35">slot</text>
<text x="265.02" y="1691.60" font-family="Liberation Sans" font-weight="400" font-size="24" textLength="126.55" lengthAdjust="spacingAndGlyphs" fill="#2f2f30" stroke="#2f2f30" stroke-width="0.3">Button te...</text>
<text x="608.67" y="1553.40" font-family="Liberation Sans" font-weight="400" font-size="24.5" textLength="56.61" lengthAdjust="spacingAndGlyphs" fill="#92ee8f" stroke="#92ee8f" stroke-width="0.35">Main</text>
<text x="671.21" y="1553.40" font-family="Liberation Sans" font-weight="400" font-size="24.5" textLength="87.90" lengthAdjust="spacingAndGlyphs" fill="#92ee8f" stroke="#92ee8f" stroke-width="0.35">content</text>
<text x="765.79" y="1553.40" font-family="Liberation Sans" font-weight="400" font-size="24.5" textLength="42.37" lengthAdjust="spacingAndGlyphs" fill="#92ee8f" stroke="#92ee8f" stroke-width="0.35">slot</text>
<text x="644.12" y="1691.60" font-family="Liberation Sans" font-weight="400" font-size="24" textLength="126.55" lengthAdjust="spacingAndGlyphs" fill="#2f2f30" stroke="#2f2f30" stroke-width="0.3">Button te...</text>
<text x="1102.03" y="1020.50" font-family="Liberation Sans" font-weight="700" font-size="25" textLength="101.11" lengthAdjust="spacingAndGlyphs" fill="#f47ff3" >Primary</text>
<text x="1210.78" y="1020.50" font-family="Liberation Sans" font-weight="700" font-size="25" textLength="63.22" lengthAdjust="spacingAndGlyphs" fill="#f47ff3" >label</text>
<text x="1280.80" y="1020.50" font-family="Liberation Sans" font-weight="700" font-size="25" textLength="69.86" lengthAdjust="spacingAndGlyphs" fill="#f47ff3" >lore...</text>
<text x="1127.57" y="1096.65" font-family="Liberation Sans" font-weight="400" font-size="24.5" textLength="56.61" lengthAdjust="spacingAndGlyphs" fill="#92ee8f" stroke="#92ee8f" stroke-width="0.35">Main</text>
<text x="1190.11" y="1096.65" font-family="Liberation Sans" font-weight="400" font-size="24.5" textLength="87.90" lengthAdjust="spacingAndGlyphs" fill="#92ee8f" stroke="#92ee8f" stroke-width="0.35">content</text>
<text x="1284.69" y="1096.65" font-family="Liberation Sans" font-weight="400" font-size="24.5" textLength="42.37" lengthAdjust="spacingAndGlyphs" fill="#92ee8f" stroke="#92ee8f" stroke-width="0.35">slot</text>
<text x="1140.74" y="1167.25" font-family="Liberation Sans" font-weight="400" font-size="24.5" textLength="124.51" lengthAdjust="spacingAndGlyphs" fill="#f7bd00" stroke="#f7bd00" stroke-width="0.35">Secondary</text>
<text x="1272.60" y="1167.25" font-family="Liberation Sans" font-weight="400" font-size="24.5" textLength="41.95" lengthAdjust="spacingAndGlyphs" fill="#f7bd00" stroke="#f7bd00" stroke-width="0.35">slot</text>
<text x="1481.13" y="1020.50" font-family="Liberation Sans" font-weight="700" font-size="25" textLength="101.11" lengthAdjust="spacingAndGlyphs" fill="#f47ff3" >Primary</text>
<text x="1589.88" y="1020.50" font-family="Liberation Sans" font-weight="700" font-size="25" textLength="63.22" lengthAdjust="spacingAndGlyphs" fill="#f47ff3" >label</text>
<text x="1659.90" y="1020.50" font-family="Liberation Sans" font-weight="700" font-size="25" textLength="69.86" lengthAdjust="spacingAndGlyphs" fill="#f47ff3" >lore...</text>
<text x="1506.67" y="1132.30" font-family="Liberation Sans" font-weight="400" font-size="24.5" textLength="56.61" lengthAdjust="spacingAndGlyphs" fill="#92ee8f" stroke="#92ee8f" stroke-width="0.35">Main</text>
<text x="1569.21" y="1132.30" font-family="Liberation Sans" font-weight="400" font-size="24.5" textLength="87.90" lengthAdjust="spacingAndGlyphs" fill="#92ee8f" stroke="#92ee8f" stroke-width="0.35">content</text>
<text x="1663.79" y="1132.30" font-family="Liberation Sans" font-weight="400" font-size="24.5" textLength="42.37" lengthAdjust="spacingAndGlyphs" fill="#92ee8f" stroke="#92ee8f" stroke-width="0.35">slot</text>
<text x="1127.57" y="1536.15" font-family="Liberation Sans" font-weight="400" font-size="24.5" textLength="56.61" lengthAdjust="spacingAndGlyphs" fill="#92ee8f" stroke="#92ee8f" stroke-width="0.35">Main</text>
<text x="1190.11" y="1536.15" font-family="Liberation Sans" font-weight="400" font-size="24.5" textLength="87.90" lengthAdjust="spacingAndGlyphs" fill="#92ee8f" stroke="#92ee8f" stroke-width="0.35">content</text>
<text x="1284.69" y="1536.15" font-family="Liberation Sans" font-weight="400" font-size="24.5" textLength="42.37" lengthAdjust="spacingAndGlyphs" fill="#92ee8f" stroke="#92ee8f" stroke-width="0.35">slot</text>
<text x="1140.74" y="1606.60" font-family="Liberation Sans" font-weight="400" font-size="24.5" textLength="124.51" lengthAdjust="spacingAndGlyphs" fill="#f7bd00" stroke="#f7bd00" stroke-width="0.35">Secondary</text>
<text x="1272.60" y="1606.60" font-family="Liberation Sans" font-weight="400" font-size="24.5" textLength="41.95" lengthAdjust="spacingAndGlyphs" fill="#f7bd00" stroke="#f7bd00" stroke-width="0.35">slot</text>
<text x="1506.67" y="1571.35" font-family="Liberation Sans" font-weight="400" font-size="24.5" textLength="56.61" lengthAdjust="spacingAndGlyphs" fill="#92ee8f" stroke="#92ee8f" stroke-width="0.35">Main</text>
<text x="1569.21" y="1571.35" font-family="Liberation Sans" font-weight="400" font-size="24.5" textLength="87.90" lengthAdjust="spacingAndGlyphs" fill="#92ee8f" stroke="#92ee8f" stroke-width="0.35">content</text>
<text x="1663.79" y="1571.35" font-family="Liberation Sans" font-weight="400" font-size="24.5" textLength="42.37" lengthAdjust="spacingAndGlyphs" fill="#92ee8f" stroke="#92ee8f" stroke-width="0.35">slot</text>
<text x="2152.54" y="1034.90" font-family="Liberation Sans" font-weight="700" font-size="25" textLength="100.60" lengthAdjust="spacingAndGlyphs" fill="#f47ff3" >Primary</text>
<text x="2260.49" y="1034.90" font-family="Liberation Sans" font-weight="700" font-size="25" textLength="78.49" lengthAdjust="spacingAndGlyphs" fill="#f47ff3" >labe...</text>
<text x="2199.73" y="1102.30" font-family="Liberation Sans" font-weight="400" font-size="24.5" textLength="91.39" lengthAdjust="spacingAndGlyphs" fill="#92ee8f" stroke="#92ee8f" stroke-width="0.35">Primary</text>
<text x="2182.94" y="1163.00" font-family="Liberation Sans" font-weight="400" font-size="24.5" textLength="124.71" lengthAdjust="spacingAndGlyphs" fill="#f7bd00" stroke="#f7bd00" stroke-width="0.35">Secondary</text>
<text x="2531.64" y="1034.90" font-family="Liberation Sans" font-weight="700" font-size="25" textLength="100.60" lengthAdjust="spacingAndGlyphs" fill="#f47ff3" >Primary</text>
<text x="2639.59" y="1034.90" font-family="Liberation Sans" font-weight="700" font-size="25" textLength="78.49" lengthAdjust="spacingAndGlyphs" fill="#f47ff3" >labe...</text>
<text x="2578.83" y="1131.95" font-family="Liberation Sans" font-weight="400" font-size="24.5" textLength="91.39" lengthAdjust="spacingAndGlyphs" fill="#92ee8f" stroke="#92ee8f" stroke-width="0.35">Primary</text>
<text x="2199.73" y="1541.40" font-family="Liberation Sans" font-weight="400" font-size="24.5" textLength="91.39" lengthAdjust="spacingAndGlyphs" fill="#92ee8f" stroke="#92ee8f" stroke-width="0.35">Primary</text>
<text x="2182.94" y="1602.00" font-family="Liberation Sans" font-weight="400" font-size="24.5" textLength="124.71" lengthAdjust="spacingAndGlyphs" fill="#f7bd00" stroke="#f7bd00" stroke-width="0.35">Secondary</text>
<text x="2578.83" y="1571.35" font-family="Liberation Sans" font-weight="400" font-size="24.5" textLength="91.39" lengthAdjust="spacingAndGlyphs" fill="#92ee8f" stroke="#92ee8f" stroke-width="0.35">Primary</text>
<text x="500.74" y="1440.00" font-family="Liberation Sans" font-weight="400" font-size="57" textLength="33.41" lengthAdjust="spacingAndGlyphs" fill="#27242b" stroke="#27242b" stroke-width="1.3">2</text>
<text x="1399.94" y="984.00" font-family="Liberation Sans" font-weight="400" font-size="57" textLength="31.00" lengthAdjust="spacingAndGlyphs" fill="#27242b" stroke="#27242b" stroke-width="1.3">3</text>
<text x="1400.00" y="1440.00" font-family="Liberation Sans" font-weight="400" font-size="57" textLength="31.70" lengthAdjust="spacingAndGlyphs" fill="#27242b" stroke="#27242b" stroke-width="1.3">4</text>
<text x="2419.96" y="984.00" font-family="Liberation Sans" font-weight="400" font-size="57" textLength="30.76" lengthAdjust="spacingAndGlyphs" fill="#27242b" stroke="#27242b" stroke-width="1.3">5</text>
</svg>
</body></html>
